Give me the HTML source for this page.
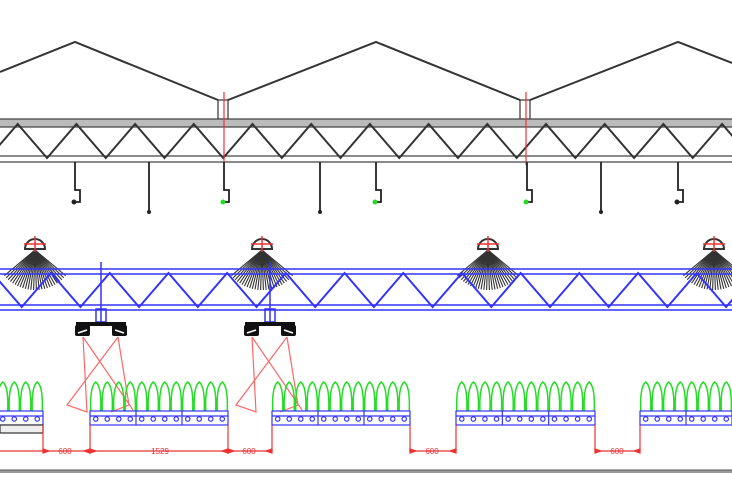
<!DOCTYPE html>
<html><head><meta charset="utf-8"><style>html,body{margin:0;padding:0;background:#fff;}svg{display:block}</style></head>
<body>
<svg id="s" width="732" height="488" viewBox="0 0 732 488" xmlns="http://www.w3.org/2000/svg" font-family="Liberation Sans, sans-serif">
<rect width="732" height="488" fill="#fff"/>
<g fill="none" stroke="#333" stroke-width="2">
<polyline points="0,72 75,42 218,100"/>
<polyline points="228,100 376,42 520,100"/>
<polyline points="530,100 678,42 732,63"/>
<rect x="218" y="100" width="10" height="19" stroke-width="1.2"/>
<rect x="520" y="100" width="10" height="19" stroke-width="1.2"/>
</g>
<rect x="0" y="119" width="732" height="8" fill="#bbb"/>
<g stroke="#444" stroke-width="1.3">
<line x1="0" y1="119" x2="732" y2="119"/><line x1="0" y1="127" x2="732" y2="127"/>
<line x1="0" y1="156" x2="732" y2="156"/><line x1="0" y1="162" x2="732" y2="162"/>
</g>
<g id="g1" fill="none" stroke="#333" stroke-width="2"></g>
<g stroke="#e33" stroke-width="1.2"><line x1="224" y1="92" x2="224" y2="165"/><line x1="526" y1="92" x2="526" y2="165"/></g>
<g id="hang" fill="none" stroke="#222" stroke-width="1.8"></g>
<g id="lamps"></g>
<g stroke="#33f" stroke-width="1.5">
<line x1="0" y1="269" x2="732" y2="269"/><line x1="0" y1="274" x2="732" y2="274"/>
<line x1="0" y1="305" x2="732" y2="305"/><line x1="0" y1="310" x2="732" y2="310"/>
</g>
<g id="g2" fill="none" stroke="#33f" stroke-width="2"></g>
<g id="fix"></g>
<g id="plants" fill="none" stroke="#2d2" stroke-width="1.5"></g>
<g id="bench" fill="none" stroke="#33f" stroke-width="1.2"></g>
<rect x="0" y="425" width="43" height="8" fill="#eee" stroke="#333" stroke-width="1.2"/>
<g id="dim" stroke="#e33" stroke-width="1.2" fill="none"></g>
<g fill="#e33" font-size="8" text-anchor="middle">
<text x="65" y="454">600</text><text x="160" y="454">1529</text><text x="249" y="454">600</text><text x="432" y="454">600</text><text x="617" y="454">600</text>
</g>
<rect x="0" y="470" width="732" height="3" fill="#999"/>
<line x1="0" y1="470" x2="732" y2="470" stroke="#555" stroke-width="1"/>
</svg>
<script>
var N="http://www.w3.org/2000/svg";
function el(p,t,a){var e=document.createElementNS(N,t);for(var k in a)e.setAttribute(k,a[k]);document.getElementById(p).appendChild(e);return e;}
var d="M-41,124";for(var x=-41;x<760;x+=58.7){d+=" L"+(x+29.35)+",158 L"+(x+58.7)+",124";}
el("g1","path",{d:d});
d="M-37,307";for(var x=-37;x<760;x+=58.7){d+=" L"+(x+29.35)+",273 L"+(x+58.7)+",307";}
el("g2","path",{d:d});
[75,224,376,527,678].forEach(function(x,i){
 el("hang","path",{d:"M"+x+",162 V190 h5 v12 h-6"});
 el("hang","circle",{cx:x-1,cy:202,r:2.5,fill:(i==1||i==2||i==3)?"#2d2":"#222",stroke:"none"});
});
[149,320,601].forEach(function(x){el("hang","line",{x1:x,y1:162,x2:x,y2:212});el("hang","circle",{cx:x,cy:212,r:2,fill:"#222",stroke:"none"});});
[35,262,488,714].forEach(function(x){
 for(var a=40;a<=140;a+=4){var r=a*Math.PI/180;el("lamps","line",{x1:x,y1:250,x2:x+Math.cos(r)*40,y2:250+Math.sin(r)*40,stroke:"#333","stroke-width":1.1});}
 el("lamps","path",{d:"M"+(x-10)+",249 A10,10 0 0 1 "+(x+10)+",249 Z",fill:"#fff",stroke:"#333","stroke-width":2});
 el("lamps","line",{x1:x,y1:236,x2:x,y2:252,stroke:"#e33","stroke-width":1.5});
 el("lamps","line",{x1:x-11,y1:244,x2:x+11,y2:244,stroke:"#e33","stroke-width":1.5});
});
[101,270].forEach(function(x){
 el("fix","line",{x1:x,y1:262,x2:x,y2:322,stroke:"#33f","stroke-width":1.5});
 el("fix","rect",{x:x-5,y:309,width:10,height:13,fill:"none",stroke:"#33f","stroke-width":1.5});
 el("fix","rect",{x:x-25,y:322,width:50,height:4,fill:"#111"});
 el("fix","rect",{x:x-26,y:325,width:15,height:11,fill:"#111",rx:2});
 el("fix","rect",{x:x+11,y:325,width:15,height:11,fill:"#111",rx:2});
 el("fix","line",{x1:x-23,y1:333,x2:x-14,y2:330,stroke:"#fff","stroke-width":1.5});
 el("fix","line",{x1:x+14,y1:330,x2:x+23,y2:333,stroke:"#fff","stroke-width":1.5});
 var g="stroke:#f66;fill:none;stroke-width:1.2";
 el("fix","path",{d:"M"+(x-18)+",337 L"+(x+32)+",410 M"+(x+17)+",337 L"+(x-34)+",405 L"+(x-14)+",412 L"+(x-18)+",337 M"+(x+17)+",337 L"+(x+28)+",405 L"+(x+10)+",412",style:g});
});
var benches=[[-95,43],[90,228],[272,410],[456,595],[640,778]];
benches.forEach(function(b){
 var w=(b[1]-b[0])/3;
 el("bench","rect",{x:b[0],y:411,width:b[1]-b[0],height:14});
 el("bench","line",{x1:b[0],y1:416,x2:b[1],y2:416});
 for(var s=0;s<3;s++){var sx=b[0]+s*w;
  if(s)el("bench","line",{x1:sx,y1:411,x2:sx,y2:425});
  for(var p=0;p<4;p++){var px=sx+w*(p+0.5)/4;
   el("bench","circle",{cx:px,cy:419,r:2.2});
   el("plants","path",{d:"M"+(px-5)+",411 C"+(px-6)+",385 "+(px-1)+",383 "+px+",382 C"+(px+1)+",383 "+(px+6)+",385 "+(px+5)+",411"});
  }}
});
var ds="";
[[43,90],[90,228],[228,272],[410,456],[595,640]].forEach(function(s){
 ds+="M"+s[0]+",425 V452 M"+s[1]+",425 V452 M"+s[0]+",451 H"+s[1]+" ";
 el("dim","path",{d:"M"+s[0]+",449 l6,2 l-6,2z M"+s[1]+",449 l-6,2 l6,2z",fill:"#e33"});
});
el("dim","path",{d:ds});
el("dim","path",{d:"M0,451 H43"});
</script>
</body></html>
